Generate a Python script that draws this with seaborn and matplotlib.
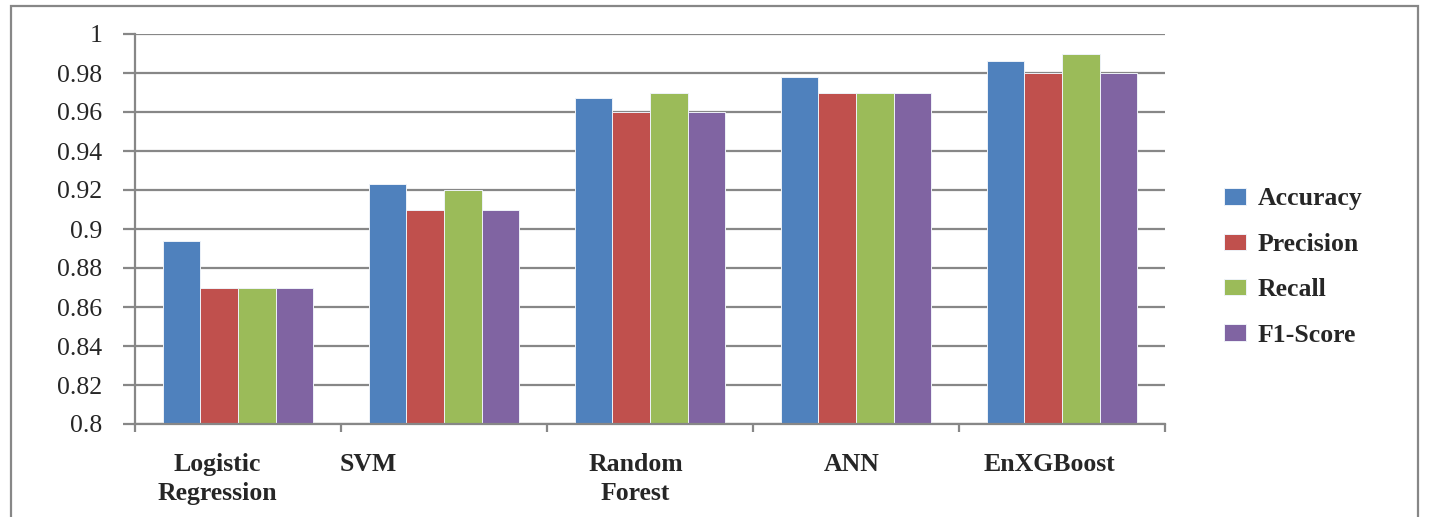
import matplotlib
matplotlib.use("Agg")
import matplotlib.pyplot as plt
import matplotlib.transforms as mtransforms
from matplotlib.patches import Rectangle
import seaborn as sns
import pandas as pd
import numpy as np

# ---- data ----
models = ["Logistic\nRegression", "SVM", "Random\nForest", "ANN", "EnXGBoost"]
metrics = ["Accuracy", "Precision", "Recall", "F1-Score"]
accuracy = [0.894, 0.923, 0.967, 0.978, 0.986]
precision = [0.87, 0.91, 0.96, 0.97, 0.98]
recall = [0.87, 0.92, 0.97, 0.97, 0.99]
f1_score = [0.87, 0.91, 0.96, 0.97, 0.98]
y_ticks = [0.8, 0.82, 0.84, 0.86, 0.88, 0.9, 0.92, 0.94, 0.96, 0.98, 1.0]
y_tick_labels = ["0.8", "0.82", "0.84", "0.86", "0.88", "0.9", "0.92", "0.94", "0.96", "0.98", "1"]

# ---- style ----
colors = ["#4F81BD", "#C0504D", "#9BBB59", "#8064A2"]
label_shift = [-0.10, -0.37, -0.07, -0.02, -0.06]
grid_color = "#878787"

rows = []
for vals, met in zip([accuracy, precision, recall, f1_score], metrics):
    for m, v in zip(models, vals):
        rows.append({"Model": m, "Metric": met, "Score": v})
df = pd.DataFrame(rows)

sns.set_theme(style="white")
plt.rcParams["font.family"] = ["Liberation Serif", "DejaVu Serif"]

fig = plt.figure(figsize=(14.32, 5.17), dpi=100)
ax = fig.add_axes([135 / 1432, 1 - 424 / 517, (1165 - 135) / 1432, 390 / 517])

sns.barplot(data=df, x="Model", y="Score", hue="Metric", order=models,
            hue_order=metrics, palette=colors, saturation=1, width=0.73,
            edgecolor="#eef2f8", linewidth=0.7, ax=ax, errorbar=None)

ax.set_ylim(0.8, 1.0)
ax.set_yticks(y_ticks)
ax.set_yticklabels(y_tick_labels, fontsize=18.5)
ax.set_xlim(-0.5, len(models) - 0.5)
ax.set_xticks([i - 0.5 for i in range(len(models) + 1)])
ax.set_xticklabels([])
ax.set_xlabel("")
ax.set_ylabel("")

ax.yaxis.grid(True, color=grid_color, linewidth=1.6)
ax.set_axisbelow(True)
for s in ["top", "right"]:
    ax.spines[s].set_visible(False)
for s in ["left", "bottom"]:
    ax.spines[s].set_color(grid_color)
    ax.spines[s].set_linewidth(1.6)
ax.tick_params(axis="y", length=8.6, width=1.6, color=grid_color, pad=15, direction="out", left=True)
ax.tick_params(axis="x", length=6, width=1.6, color=grid_color, direction="out", bottom=True)

trans = mtransforms.blended_transform_factory(ax.transData, ax.transAxes)
for i, m in enumerate(models):
    ax.text(i + label_shift[i], -0.075, m, transform=trans, ha="center", va="top",
            fontsize=18.5, fontweight="bold", linespacing=1.3)

handles, labels = ax.get_legend_handles_labels()
ax.legend(handles, labels, loc="center left", bbox_to_anchor=(1211 / 1432, 1 - 267 / 517),
          bbox_transform=fig.transFigure, frameon=False, borderpad=0,
          prop={"weight": "bold", "size": 18.5}, handlelength=0.85, handleheight=0.6,
          handletextpad=0.45, labelspacing=0.87)

fig.patches.append(Rectangle((11 / 1432, -0.1), (1418 - 11) / 1432, 1.1 - 6 / 517,
                             transform=fig.transFigure, fill=False,
                             edgecolor=grid_color, linewidth=1.6))

fig.savefig("out.png", dpi=100)
